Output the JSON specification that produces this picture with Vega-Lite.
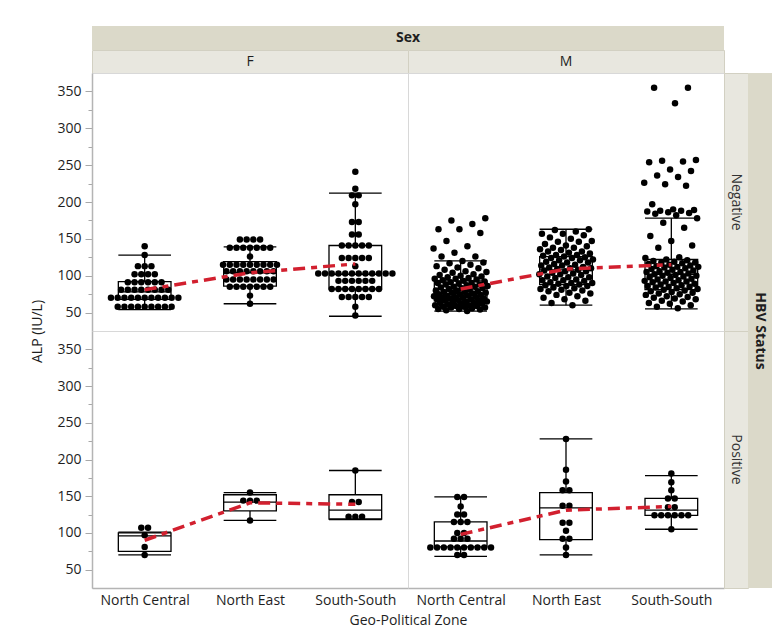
{
  "$schema": "https://vega.github.io/schema/vega-lite/v6.json",
  "padding": {"left": 30, "top": 26, "right": 0, "bottom": 0},
  "background": "white",
  "config": {
    "view": {"stroke": "#d8d8d8", "strokeWidth": 1},
    "font": "Open Sans",
    "text": {"font": "Open Sans", "fontSize": 14, "color": "#1e1e1e"},
    "axis": {"labelFont": "Open Sans", "labelFontSize": 14, "labelColor": "#1e1e1e", "titleFont": "Open Sans", "titleFontSize": 14, "titleFontWeight": "normal", "titleColor": "#1e1e1e", "domainColor": "#b4b4b4", "domainWidth": 1.5, "tickColor": "#a8a8a8", "tickWidth": 1, "grid": false}
  },
  "datasets": {
    "boxes": [
      {"sex": "F", "hbv": "Negative", "zone": "North Central", "lo": 54, "q1": 68, "median": 78, "q3": 92, "hi": 128, "mean": 81},
      {"sex": "F", "hbv": "Negative", "zone": "North East", "lo": 62, "q1": 86, "median": 104, "q3": 119, "hi": 139, "mean": 104},
      {"sex": "F", "hbv": "Negative", "zone": "South-South", "lo": 45, "q1": 82, "median": 102, "q3": 141, "hi": 212, "mean": 116},
      {"sex": "M", "hbv": "Negative", "zone": "North Central", "lo": 52, "q1": 66, "median": 76, "q3": 93, "hi": 120, "mean": 82},
      {"sex": "M", "hbv": "Negative", "zone": "North East", "lo": 60, "q1": 88, "median": 108, "q3": 126, "hi": 163, "mean": 109},
      {"sex": "M", "hbv": "Negative", "zone": "South-South", "lo": 55, "q1": 81, "median": 102, "q3": 122, "hi": 178, "mean": 115},
      {"sex": "F", "hbv": "Positive", "zone": "North Central", "lo": 70, "q1": 75, "median": 96, "q3": 100, "hi": 101, "mean": 90},
      {"sex": "F", "hbv": "Positive", "zone": "North East", "lo": 117, "q1": 130, "median": 142, "q3": 152, "hi": 155, "mean": 141},
      {"sex": "F", "hbv": "Positive", "zone": "South-South", "lo": 118, "q1": 119, "median": 131, "q3": 152, "hi": 185, "mean": 139},
      {"sex": "M", "hbv": "Positive", "zone": "North Central", "lo": 68, "q1": 81, "median": 89, "q3": 115, "hi": 149, "mean": 98},
      {"sex": "M", "hbv": "Positive", "zone": "North East", "lo": 70, "q1": 91, "median": 134, "q3": 155, "hi": 228, "mean": 131},
      {"sex": "M", "hbv": "Positive", "zone": "South-South", "lo": 105, "q1": 124, "median": 131, "q3": 147, "hi": 178, "mean": 136}
    ],
    "fneg": [
      {"zone":"North Central","alp":140},{"zone":"North Central","alp":128},{"zone":"North Central","alp":113},{"zone":"North Central","alp":113},{"zone":"North Central","alp":113},
      {"zone":"North Central","alp":102},{"zone":"North Central","alp":102},{"zone":"North Central","alp":102},{"zone":"North Central","alp":102},
      {"zone":"North Central","alp":91},{"zone":"North Central","alp":91},{"zone":"North Central","alp":91},{"zone":"North Central","alp":91},{"zone":"North Central","alp":91},{"zone":"North Central","alp":91},
      {"zone":"North Central","alp":81},{"zone":"North Central","alp":81},{"zone":"North Central","alp":81},{"zone":"North Central","alp":81},{"zone":"North Central","alp":81},{"zone":"North Central","alp":81},{"zone":"North Central","alp":81},{"zone":"North Central","alp":81},
      {"zone":"North Central","alp":70},{"zone":"North Central","alp":70},{"zone":"North Central","alp":70},{"zone":"North Central","alp":70},{"zone":"North Central","alp":70},{"zone":"North Central","alp":70},{"zone":"North Central","alp":70},{"zone":"North Central","alp":70},{"zone":"North Central","alp":70},{"zone":"North Central","alp":70},{"zone":"North Central","alp":70},
      {"zone":"North Central","alp":58},{"zone":"North Central","alp":58},{"zone":"North Central","alp":58},{"zone":"North Central","alp":58},{"zone":"North Central","alp":58},{"zone":"North Central","alp":58},{"zone":"North Central","alp":58},{"zone":"North Central","alp":58},{"zone":"North Central","alp":58},
      {"zone":"North East","alp":149},{"zone":"North East","alp":149},{"zone":"North East","alp":149},{"zone":"North East","alp":149},
      {"zone":"North East","alp":138},{"zone":"North East","alp":138},{"zone":"North East","alp":138},{"zone":"North East","alp":138},{"zone":"North East","alp":138},{"zone":"North East","alp":138},{"zone":"North East","alp":138},
      {"zone":"North East","alp":126},
      {"zone":"North East","alp":115},{"zone":"North East","alp":115},{"zone":"North East","alp":115},{"zone":"North East","alp":115},{"zone":"North East","alp":115},{"zone":"North East","alp":115},{"zone":"North East","alp":115},{"zone":"North East","alp":115},{"zone":"North East","alp":115},
      {"zone":"North East","alp":106},{"zone":"North East","alp":106},{"zone":"North East","alp":106},{"zone":"North East","alp":106},{"zone":"North East","alp":106},{"zone":"North East","alp":106},{"zone":"North East","alp":106},{"zone":"North East","alp":106},
      {"zone":"North East","alp":95},{"zone":"North East","alp":95},{"zone":"North East","alp":95},{"zone":"North East","alp":95},{"zone":"North East","alp":95},{"zone":"North East","alp":95},{"zone":"North East","alp":95},{"zone":"North East","alp":95},
      {"zone":"North East","alp":85},{"zone":"North East","alp":85},{"zone":"North East","alp":85},{"zone":"North East","alp":85},{"zone":"North East","alp":85},{"zone":"North East","alp":85},{"zone":"North East","alp":85},
      {"zone":"North East","alp":73},{"zone":"North East","alp":62},
      {"zone":"South-South","alp":241},{"zone":"South-South","alp":218},{"zone":"South-South","alp":209},{"zone":"South-South","alp":209},{"zone":"South-South","alp":197},
      {"zone":"South-South","alp":173},{"zone":"South-South","alp":173},{"zone":"South-South","alp":156},{"zone":"South-South","alp":156},
      {"zone":"South-South","alp":141},{"zone":"South-South","alp":141},{"zone":"South-South","alp":141},{"zone":"South-South","alp":141},{"zone":"South-South","alp":141},
      {"zone":"South-South","alp":124},{"zone":"South-South","alp":124},{"zone":"South-South","alp":124},{"zone":"South-South","alp":124},{"zone":"South-South","alp":124},
      {"zone":"South-South","alp":113},
      {"zone":"South-South","alp":103},{"zone":"South-South","alp":103},{"zone":"South-South","alp":103},{"zone":"South-South","alp":103},{"zone":"South-South","alp":103},{"zone":"South-South","alp":103},{"zone":"South-South","alp":103},{"zone":"South-South","alp":103},{"zone":"South-South","alp":103},{"zone":"South-South","alp":103},{"zone":"South-South","alp":103},{"zone":"South-South","alp":103},
      {"zone":"South-South","alp":93},{"zone":"South-South","alp":93},{"zone":"South-South","alp":93},{"zone":"South-South","alp":93},{"zone":"South-South","alp":93},{"zone":"South-South","alp":93},
      {"zone":"South-South","alp":82},{"zone":"South-South","alp":82},{"zone":"South-South","alp":82},{"zone":"South-South","alp":82},{"zone":"South-South","alp":82},{"zone":"South-South","alp":82},{"zone":"South-South","alp":82},{"zone":"South-South","alp":82},
      {"zone":"South-South","alp":71},{"zone":"South-South","alp":71},{"zone":"South-South","alp":71},{"zone":"South-South","alp":71},{"zone":"South-South","alp":71},
      {"zone":"South-South","alp":58},{"zone":"South-South","alp":46}
    ],
    "mneg": [
      {"zone":"North Central","alp":178},{"zone":"North Central","alp":175},{"zone":"North Central","alp":170},{"zone":"North Central","alp":163},{"zone":"North Central","alp":163},{"zone":"North Central","alp":158},{"zone":"North Central","alp":147},{"zone":"North Central","alp":140},{"zone":"North Central","alp":137},{"zone":"North Central","alp":131},{"zone":"North Central","alp":126},{"zone":"North Central","alp":126},
      {"zone":"North Central","alp":120},{"zone":"North Central","alp":118},{"zone":"North Central","alp":117},{"zone":"North Central","alp":115},{"zone":"North Central","alp":113},{"zone":"North Central","alp":111},{"zone":"North Central","alp":110},{"zone":"North Central","alp":108},{"zone":"North Central","alp":106},{"zone":"North Central","alp":105},{"zone":"North Central","alp":104},{"zone":"North Central","alp":102},{"zone":"North Central","alp":101},{"zone":"North Central","alp":100},
      {"zone":"North Central","alp":99},{"zone":"North Central","alp":98},{"zone":"North Central","alp":97},{"zone":"North Central","alp":96},{"zone":"North Central","alp":96},{"zone":"North Central","alp":95},{"zone":"North Central","alp":94},{"zone":"North Central","alp":93},{"zone":"North Central","alp":92},{"zone":"North Central","alp":91},{"zone":"North Central","alp":90},{"zone":"North Central","alp":90},
      {"zone":"North Central","alp":89},{"zone":"North Central","alp":88},{"zone":"North Central","alp":88},{"zone":"North Central","alp":87},{"zone":"North Central","alp":86},{"zone":"North Central","alp":85},{"zone":"North Central","alp":85},{"zone":"North Central","alp":84},{"zone":"North Central","alp":83},{"zone":"North Central","alp":83},{"zone":"North Central","alp":82},{"zone":"North Central","alp":81},{"zone":"North Central","alp":80},{"zone":"North Central","alp":80},
      {"zone":"North Central","alp":79},{"zone":"North Central","alp":78},{"zone":"North Central","alp":78},{"zone":"North Central","alp":77},{"zone":"North Central","alp":77},{"zone":"North Central","alp":76},{"zone":"North Central","alp":75},{"zone":"North Central","alp":75},{"zone":"North Central","alp":74},{"zone":"North Central","alp":73},{"zone":"North Central","alp":73},{"zone":"North Central","alp":72},{"zone":"North Central","alp":71},{"zone":"North Central","alp":71},{"zone":"North Central","alp":70},{"zone":"North Central","alp":70},
      {"zone":"North Central","alp":69},{"zone":"North Central","alp":69},{"zone":"North Central","alp":68},{"zone":"North Central","alp":68},{"zone":"North Central","alp":67},{"zone":"North Central","alp":66},{"zone":"North Central","alp":66},{"zone":"North Central","alp":65},{"zone":"North Central","alp":65},{"zone":"North Central","alp":64},{"zone":"North Central","alp":63},{"zone":"North Central","alp":63},{"zone":"North Central","alp":62},{"zone":"North Central","alp":62},{"zone":"North Central","alp":61},{"zone":"North Central","alp":60},{"zone":"North Central","alp":60},
      {"zone":"North Central","alp":59},{"zone":"North Central","alp":59},{"zone":"North Central","alp":58},{"zone":"North Central","alp":58},{"zone":"North Central","alp":57},{"zone":"North Central","alp":57},{"zone":"North Central","alp":56},{"zone":"North Central","alp":55},{"zone":"North Central","alp":55},{"zone":"North Central","alp":54},{"zone":"North Central","alp":53},{"zone":"North Central","alp":52},
      {"zone":"North East","alp":163},{"zone":"North East","alp":162},{"zone":"North East","alp":160},{"zone":"North East","alp":157},{"zone":"North East","alp":157},{"zone":"North East","alp":155},{"zone":"North East","alp":152},{"zone":"North East","alp":150},{"zone":"North East","alp":147},{"zone":"North East","alp":146},
      {"zone":"North East","alp":146},{"zone":"North East","alp":143},{"zone":"North East","alp":141},{"zone":"North East","alp":140},{"zone":"North East","alp":138},{"zone":"North East","alp":138},{"zone":"North East","alp":136},{"zone":"North East","alp":135},{"zone":"North East","alp":133},{"zone":"North East","alp":133},
      {"zone":"North East","alp":131},{"zone":"North East","alp":130},{"zone":"North East","alp":128},{"zone":"North East","alp":128},{"zone":"North East","alp":127},{"zone":"North East","alp":126},{"zone":"North East","alp":125},{"zone":"North East","alp":124},{"zone":"North East","alp":124},{"zone":"North East","alp":122},
      {"zone":"North East","alp":121},{"zone":"North East","alp":121},{"zone":"North East","alp":119},{"zone":"North East","alp":118},{"zone":"North East","alp":118},{"zone":"North East","alp":116},{"zone":"North East","alp":115},{"zone":"North East","alp":114},{"zone":"North East","alp":114},{"zone":"North East","alp":112},
      {"zone":"North East","alp":111},{"zone":"North East","alp":110},{"zone":"North East","alp":110},{"zone":"North East","alp":109},{"zone":"North East","alp":108},{"zone":"North East","alp":107},{"zone":"North East","alp":106},{"zone":"North East","alp":106},{"zone":"North East","alp":104},{"zone":"North East","alp":103},
      {"zone":"North East","alp":102},{"zone":"North East","alp":102},{"zone":"North East","alp":101},{"zone":"North East","alp":99},{"zone":"North East","alp":98},{"zone":"North East","alp":98},{"zone":"North East","alp":97},{"zone":"North East","alp":95},{"zone":"North East","alp":94},{"zone":"North East","alp":94},
      {"zone":"North East","alp":93},{"zone":"North East","alp":91},{"zone":"North East","alp":90},{"zone":"North East","alp":90},{"zone":"North East","alp":89},{"zone":"North East","alp":88},{"zone":"North East","alp":87},{"zone":"North East","alp":86},{"zone":"North East","alp":86},{"zone":"North East","alp":84},
      {"zone":"North East","alp":83},{"zone":"North East","alp":82},{"zone":"North East","alp":81},{"zone":"North East","alp":80},{"zone":"North East","alp":79},{"zone":"North East","alp":77},{"zone":"North East","alp":76},{"zone":"North East","alp":74},{"zone":"North East","alp":72},{"zone":"North East","alp":70},
      {"zone":"North East","alp":68},{"zone":"North East","alp":66},{"zone":"North East","alp":63},{"zone":"North East","alp":60},
      {"zone":"South-South","alp":355},{"zone":"South-South","alp":355},{"zone":"South-South","alp":334},{"zone":"South-South","alp":257},{"zone":"South-South","alp":256},{"zone":"South-South","alp":255},{"zone":"South-South","alp":254},{"zone":"South-South","alp":244},{"zone":"South-South","alp":242},{"zone":"South-South","alp":236},
      {"zone":"South-South","alp":234},{"zone":"South-South","alp":226},{"zone":"South-South","alp":224},{"zone":"South-South","alp":222},{"zone":"South-South","alp":197},{"zone":"South-South","alp":190},{"zone":"South-South","alp":189},{"zone":"South-South","alp":188},{"zone":"South-South","alp":188},{"zone":"South-South","alp":187},
      {"zone":"South-South","alp":186},{"zone":"South-South","alp":185},{"zone":"South-South","alp":184},{"zone":"South-South","alp":182},
      {"zone":"South-South","alp":178},{"zone":"South-South","alp":172},{"zone":"South-South","alp":165},{"zone":"South-South","alp":154},{"zone":"South-South","alp":147},{"zone":"South-South","alp":141},{"zone":"South-South","alp":138},
      {"zone":"South-South","alp":125},{"zone":"South-South","alp":124},{"zone":"South-South","alp":122},{"zone":"South-South","alp":121},{"zone":"South-South","alp":120},{"zone":"South-South","alp":119},{"zone":"South-South","alp":118},{"zone":"South-South","alp":118},{"zone":"South-South","alp":117},{"zone":"South-South","alp":116},
      {"zone":"South-South","alp":115},{"zone":"South-South","alp":114},{"zone":"South-South","alp":113},{"zone":"South-South","alp":112},{"zone":"South-South","alp":112},{"zone":"South-South","alp":111},{"zone":"South-South","alp":110},{"zone":"South-South","alp":109},{"zone":"South-South","alp":108},{"zone":"South-South","alp":107},
      {"zone":"South-South","alp":106},{"zone":"South-South","alp":105},{"zone":"South-South","alp":105},{"zone":"South-South","alp":104},{"zone":"South-South","alp":103},{"zone":"South-South","alp":102},{"zone":"South-South","alp":101},{"zone":"South-South","alp":100},{"zone":"South-South","alp":100},{"zone":"South-South","alp":99},
      {"zone":"South-South","alp":98},{"zone":"South-South","alp":97},{"zone":"South-South","alp":96},{"zone":"South-South","alp":95},{"zone":"South-South","alp":94},{"zone":"South-South","alp":93},{"zone":"South-South","alp":92},{"zone":"South-South","alp":92},{"zone":"South-South","alp":91},{"zone":"South-South","alp":90},
      {"zone":"South-South","alp":89},{"zone":"South-South","alp":88},{"zone":"South-South","alp":87},{"zone":"South-South","alp":86},{"zone":"South-South","alp":85},{"zone":"South-South","alp":85},{"zone":"South-South","alp":84},{"zone":"South-South","alp":83},{"zone":"South-South","alp":82},{"zone":"South-South","alp":81},
      {"zone":"South-South","alp":80},{"zone":"South-South","alp":79},{"zone":"South-South","alp":78},{"zone":"South-South","alp":77},{"zone":"South-South","alp":76},{"zone":"South-South","alp":75},{"zone":"South-South","alp":74},{"zone":"South-South","alp":72},{"zone":"South-South","alp":71},{"zone":"South-South","alp":70},
      {"zone":"South-South","alp":69},{"zone":"South-South","alp":68},{"zone":"South-South","alp":66},{"zone":"South-South","alp":65},{"zone":"South-South","alp":63},{"zone":"South-South","alp":62},{"zone":"South-South","alp":60},{"zone":"South-South","alp":58},{"zone":"South-South","alp":56}
    ],
    "fpos": [
      {"zone":"North Central","alp":107},{"zone":"North Central","alp":107},{"zone":"North Central","alp":97},{"zone":"North Central","alp":81},{"zone":"North Central","alp":70},
      {"zone":"North East","alp":155},{"zone":"North East","alp":144},{"zone":"North East","alp":144},{"zone":"North East","alp":144},{"zone":"North East","alp":117},
      {"zone":"South-South","alp":185},{"zone":"South-South","alp":142},{"zone":"South-South","alp":142},{"zone":"South-South","alp":122},{"zone":"South-South","alp":122},{"zone":"South-South","alp":122}
    ],
    "mpos": [
      {"zone":"North Central","alp":149},{"zone":"North Central","alp":149},{"zone":"North Central","alp":136},{"zone":"North Central","alp":125},{"zone":"North Central","alp":125},
      {"zone":"North Central","alp":115},{"zone":"North Central","alp":115},{"zone":"North Central","alp":115},{"zone":"North Central","alp":100},{"zone":"North Central","alp":100},
      {"zone":"North Central","alp":92},{"zone":"North Central","alp":92},{"zone":"North Central","alp":92},
      {"zone":"North Central","alp":80},{"zone":"North Central","alp":80},{"zone":"North Central","alp":80},{"zone":"North Central","alp":80},{"zone":"North Central","alp":80},{"zone":"North Central","alp":80},{"zone":"North Central","alp":80},{"zone":"North Central","alp":80},{"zone":"North Central","alp":80},{"zone":"North Central","alp":80},
      {"zone":"North Central","alp":70},{"zone":"North Central","alp":70},
      {"zone":"North East","alp":228},{"zone":"North East","alp":186},{"zone":"North East","alp":170},{"zone":"North East","alp":158},{"zone":"North East","alp":158},{"zone":"North East","alp":137},{"zone":"North East","alp":137},
      {"zone":"North East","alp":114},{"zone":"North East","alp":114},{"zone":"North East","alp":103},{"zone":"North East","alp":92},{"zone":"North East","alp":92},{"zone":"North East","alp":80},{"zone":"North East","alp":70},
      {"zone":"South-South","alp":181},{"zone":"South-South","alp":169},{"zone":"South-South","alp":158},{"zone":"South-South","alp":147},{"zone":"South-South","alp":147},{"zone":"South-South","alp":135},{"zone":"South-South","alp":135},
      {"zone":"South-South","alp":124},{"zone":"South-South","alp":124},{"zone":"South-South","alp":124},{"zone":"South-South","alp":124},{"zone":"South-South","alp":124},{"zone":"South-South","alp":124},{"zone":"South-South","alp":105}
    ]
  },
  "columns": 4,
  "spacing": 0,
  "bounds": "flush",
  "align": "each",
  "concat": [
    {"width": 316, "height": 24, "view": {"fill": "#dbd9c9", "stroke": null}, "data": {"values": [{}]}, "mark": {"type": "text", "text": ""}, "encoding": {}},
    {"width": 316, "height": 24, "view": {"fill": "#dbd9c9", "stroke": null}, "data": {"values": [{}]},
     "mark": {"type": "text", "text": "Sex", "fontWeight": "bold", "align": "center", "baseline": "middle"},
     "encoding": {"x": {"datum": 0, "type": "quantitative", "scale": {"domain": [0, 1]}, "axis": null}}},
    {"width": 24, "height": 24, "view": {"stroke": null}, "data": {"values": [{}]}, "mark": {"type": "text", "text": ""}, "encoding": {}},
    {"width": 24, "height": 24, "view": {"stroke": null}, "data": {"values": [{}]}, "mark": {"type": "text", "text": ""}, "encoding": {}},

    {"width": 316, "height": 23, "view": {"fill": "#e8e7df", "stroke": "#d2d0c2"}, "data": {"values": [{}]}, "mark": {"type": "text", "text": "F", "align": "center", "baseline": "middle"}, "encoding": {}},
    {"width": 316, "height": 23, "view": {"fill": "#e8e7df", "stroke": "#d2d0c2"}, "data": {"values": [{}]}, "mark": {"type": "text", "text": "M", "align": "center", "baseline": "middle"}, "encoding": {}},
    {"width": 24, "height": 23, "view": {"stroke": null}, "data": {"values": [{}]}, "mark": {"type": "text", "text": ""}, "encoding": {}},
    {"width": 24, "height": 23, "view": {"stroke": null}, "data": {"values": [{}]}, "mark": {"type": "text", "text": ""}, "encoding": {}},

    {"width": 316, "height": 258,
     "layer": [
       {"data": {"name": "boxes"},
        "transform": [
          {"filter": "datum.sex === 'F' && datum.hbv === 'Negative'"},
          {"calculate": "indexof(['North Central','North East','South-South'], datum.zone) + 1", "as": "idx"},
          {"calculate": "datum.idx - 0.25", "as": "xl"},
          {"calculate": "datum.idx + 0.25", "as": "xr"}
        ],
        "layer": [
          {"mark": {"type": "rule", "color": "black", "strokeWidth": 1.3},
           "encoding": {
             "x": {"field": "idx", "type": "quantitative", "scale": {"domain": [0.5, 3.5], "nice": false, "zero": false}, "axis": null},
             "y": {"field": "lo", "type": "quantitative", "scale": {"domain": [25, 375], "nice": false, "zero": false},
                   "axis": {"values": [50,75,100,125,150,175,200,225,250,275,300,325,350], "labelExpr": "datum.value % 50 === 0 ? datum.label : ''", "tickSize": {"condition": {"test": "datum.value % 50 === 0", "value": 7}, "value": 4}, "labelOverlap": false, "labelPadding": 4, "title": null}},
             "y2": {"field": "hi"}}},
          {"mark": {"type": "rect", "fill": "white", "stroke": "black", "strokeWidth": 1.3},
           "encoding": {
             "x": {"field": "xl", "type": "quantitative", "scale": {"domain": [0.5, 3.5], "nice": false, "zero": false}, "axis": null},
             "x2": {"field": "xr"},
             "y": {"field": "q1", "type": "quantitative", "scale": {"domain": [25, 375], "nice": false, "zero": false},
                   "axis": {"values": [50,75,100,125,150,175,200,225,250,275,300,325,350], "labelExpr": "datum.value % 50 === 0 ? datum.label : ''", "tickSize": {"condition": {"test": "datum.value % 50 === 0", "value": 7}, "value": 4}, "labelOverlap": false, "labelPadding": 4, "title": null}},
             "y2": {"field": "q3"}}},
          {"transform": [{"fold": ["lo", "hi", "median"], "as": ["stat", "val"]}],
           "mark": {"type": "rule", "color": "black", "strokeWidth": 1.3},
           "encoding": {
             "x": {"field": "xl", "type": "quantitative", "scale": {"domain": [0.5, 3.5], "nice": false, "zero": false}, "axis": null},
             "x2": {"field": "xr"},
             "y": {"field": "val", "type": "quantitative", "scale": {"domain": [25, 375], "nice": false, "zero": false},
                   "axis": {"values": [50,75,100,125,150,175,200,225,250,275,300,325,350], "labelExpr": "datum.value % 50 === 0 ? datum.label : ''", "tickSize": {"condition": {"test": "datum.value % 50 === 0", "value": 7}, "value": 4}, "labelOverlap": false, "labelPadding": 4, "title": null}}}}
        ]},
       {"data": {"name": "fneg"},
        "transform": [
          {"calculate": "indexof(['North Central','North East','South-South'], datum.zone) + 1", "as": "idx"},
          {"joinaggregate": [{"op": "count", "as": "n"}], "groupby": ["zone", "alp"]},
          {"window": [{"op": "row_number", "as": "rn"}], "groupby": ["zone", "alp"]},
          {"calculate": "datum.idx + (datum.rn - 1 - (datum.n - 1) / 2) * 0.064", "as": "xp"}
        ],
        "mark": {"type": "circle", "size": 42, "color": "black", "opacity": 1},
        "encoding": {
          "x": {"field": "xp", "type": "quantitative", "scale": {"domain": [0.5, 3.5], "nice": false, "zero": false}, "axis": null},
          "y": {"field": "alp", "type": "quantitative", "scale": {"domain": [25, 375], "nice": false, "zero": false},
                "axis": {"values": [50,75,100,125,150,175,200,225,250,275,300,325,350], "labelExpr": "datum.value % 50 === 0 ? datum.label : ''", "tickSize": {"condition": {"test": "datum.value % 50 === 0", "value": 7}, "value": 4}, "labelOverlap": false, "labelPadding": 4, "title": null}}}},
       {"data": {"name": "boxes"},
        "transform": [
          {"filter": "datum.sex === 'F' && datum.hbv === 'Negative'"},
          {"calculate": "indexof(['North Central','North East','South-South'], datum.zone) + 1", "as": "idx"}
        ],
        "mark": {"type": "line", "color": "#d2202f", "strokeWidth": 3.5, "strokeDash": [12, 6, 6, 6]},
        "encoding": {
          "x": {"field": "idx", "type": "quantitative", "scale": {"domain": [0.5, 3.5], "nice": false, "zero": false}, "axis": null},
          "y": {"field": "mean", "type": "quantitative", "scale": {"domain": [25, 375], "nice": false, "zero": false},
                "axis": {"values": [50,75,100,125,150,175,200,225,250,275,300,325,350], "labelExpr": "datum.value % 50 === 0 ? datum.label : ''", "tickSize": {"condition": {"test": "datum.value % 50 === 0", "value": 7}, "value": 4}, "labelOverlap": false, "labelPadding": 4, "title": null}}}}
     ]},

    {"width": 316, "height": 258,
     "layer": [
       {"data": {"name": "boxes"},
        "transform": [
          {"filter": "datum.sex === 'M' && datum.hbv === 'Negative'"},
          {"calculate": "indexof(['North Central','North East','South-South'], datum.zone) + 1", "as": "idx"},
          {"calculate": "datum.idx - 0.25", "as": "xl"},
          {"calculate": "datum.idx + 0.25", "as": "xr"}
        ],
        "layer": [
          {"mark": {"type": "rule", "color": "black", "strokeWidth": 1.3},
           "encoding": {
             "x": {"field": "idx", "type": "quantitative", "scale": {"domain": [0.5, 3.5], "nice": false, "zero": false}, "axis": null},
             "y": {"field": "lo", "type": "quantitative", "scale": {"domain": [25, 375], "nice": false, "zero": false}, "axis": null},
             "y2": {"field": "hi"}}},
          {"mark": {"type": "rect", "fill": "white", "stroke": "black", "strokeWidth": 1.3},
           "encoding": {
             "x": {"field": "xl", "type": "quantitative", "scale": {"domain": [0.5, 3.5], "nice": false, "zero": false}, "axis": null},
             "x2": {"field": "xr"},
             "y": {"field": "q1", "type": "quantitative", "scale": {"domain": [25, 375], "nice": false, "zero": false}, "axis": null},
             "y2": {"field": "q3"}}},
          {"transform": [{"fold": ["lo", "hi", "median"], "as": ["stat", "val"]}],
           "mark": {"type": "rule", "color": "black", "strokeWidth": 1.3},
           "encoding": {
             "x": {"field": "xl", "type": "quantitative", "scale": {"domain": [0.5, 3.5], "nice": false, "zero": false}, "axis": null},
             "x2": {"field": "xr"},
             "y": {"field": "val", "type": "quantitative", "scale": {"domain": [25, 375], "nice": false, "zero": false}, "axis": null}}}
        ]},
       {"data": {"name": "mneg"},
        "transform": [
          {"calculate": "indexof(['North Central','North East','South-South'], datum.zone) + 1", "as": "idx"},
          {"window": [{"op": "row_number", "as": "rn"}], "groupby": ["zone"], "sort": [{"field": "alp", "order": "ascending"}]},
          {"calculate": "datum.idx + ((datum.rn * 0.618034) % 1 - 0.5) * 0.52", "as": "xp"}
        ],
        "mark": {"type": "circle", "size": 42, "color": "black", "opacity": 1},
        "encoding": {
          "x": {"field": "xp", "type": "quantitative", "scale": {"domain": [0.5, 3.5], "nice": false, "zero": false}, "axis": null},
          "y": {"field": "alp", "type": "quantitative", "scale": {"domain": [25, 375], "nice": false, "zero": false}, "axis": null}}},
       {"data": {"name": "boxes"},
        "transform": [
          {"filter": "datum.sex === 'M' && datum.hbv === 'Negative'"},
          {"calculate": "indexof(['North Central','North East','South-South'], datum.zone) + 1", "as": "idx"}
        ],
        "mark": {"type": "line", "color": "#d2202f", "strokeWidth": 3.5, "strokeDash": [12, 6, 6, 6]},
        "encoding": {
          "x": {"field": "idx", "type": "quantitative", "scale": {"domain": [0.5, 3.5], "nice": false, "zero": false}, "axis": null},
          "y": {"field": "mean", "type": "quantitative", "scale": {"domain": [25, 375], "nice": false, "zero": false}, "axis": null}}}
     ]},

    {"width": 24, "height": 258, "view": {"fill": "#e8e7df", "stroke": "#d2d0c2"}, "data": {"values": [{}]}, "mark": {"type": "text", "text": "Negative", "angle": 90, "align": "center", "baseline": "middle", "color": "#333333"}, "encoding": {}},
    {"width": 24, "height": 258, "view": {"fill": "#dbd9c9", "stroke": null}, "data": {"values": [{}]}, "mark": {"type": "text", "text": ""}, "encoding": {}},

    {"width": 316, "height": 257,
     "layer": [
       {"data": {"name": "boxes"},
        "transform": [
          {"filter": "datum.sex === 'F' && datum.hbv === 'Positive'"},
          {"calculate": "indexof(['North Central','North East','South-South'], datum.zone) + 1", "as": "idx"},
          {"calculate": "datum.idx - 0.25", "as": "xl"},
          {"calculate": "datum.idx + 0.25", "as": "xr"}
        ],
        "layer": [
          {"mark": {"type": "rule", "color": "black", "strokeWidth": 1.3},
           "encoding": {
             "x": {"field": "idx", "type": "quantitative", "scale": {"domain": [0.5, 3.5], "nice": false, "zero": false},
                   "axis": {"values": [1, 2, 3], "labelExpr": "datum.value === 1 ? 'North Central' : datum.value === 2 ? 'North East' : 'South-South'", "ticks": false, "labelPadding": 5, "labelOverlap": false, "labelFlush": false, "title": "Geo-Political Zone", "titleAnchor": "end", "titleAlign": "center", "titlePadding": 6}},
             "y": {"field": "lo", "type": "quantitative", "scale": {"domain": [25, 375], "nice": false, "zero": false},
                   "axis": {"values": [50,75,100,125,150,175,200,225,250,275,300,325,350], "labelExpr": "datum.value % 50 === 0 ? datum.label : ''", "tickSize": {"condition": {"test": "datum.value % 50 === 0", "value": 7}, "value": 4}, "labelOverlap": false, "labelPadding": 4, "title": "ALP (IU/L)", "titleAnchor": "end", "titleAlign": "center", "titlePadding": 12}},
             "y2": {"field": "hi"}}},
          {"mark": {"type": "rect", "fill": "white", "stroke": "black", "strokeWidth": 1.3},
           "encoding": {
             "x": {"field": "xl", "type": "quantitative", "scale": {"domain": [0.5, 3.5], "nice": false, "zero": false},
                   "axis": {"values": [1, 2, 3], "labelExpr": "datum.value === 1 ? 'North Central' : datum.value === 2 ? 'North East' : 'South-South'", "ticks": false, "labelPadding": 5, "labelOverlap": false, "labelFlush": false, "title": "Geo-Political Zone", "titleAnchor": "end", "titleAlign": "center", "titlePadding": 6}},
             "x2": {"field": "xr"},
             "y": {"field": "q1", "type": "quantitative", "scale": {"domain": [25, 375], "nice": false, "zero": false},
                   "axis": {"values": [50,75,100,125,150,175,200,225,250,275,300,325,350], "labelExpr": "datum.value % 50 === 0 ? datum.label : ''", "tickSize": {"condition": {"test": "datum.value % 50 === 0", "value": 7}, "value": 4}, "labelOverlap": false, "labelPadding": 4, "title": "ALP (IU/L)", "titleAnchor": "end", "titleAlign": "center", "titlePadding": 12}},
             "y2": {"field": "q3"}}},
          {"transform": [{"fold": ["lo", "hi", "median"], "as": ["stat", "val"]}],
           "mark": {"type": "rule", "color": "black", "strokeWidth": 1.3},
           "encoding": {
             "x": {"field": "xl", "type": "quantitative", "scale": {"domain": [0.5, 3.5], "nice": false, "zero": false},
                   "axis": {"values": [1, 2, 3], "labelExpr": "datum.value === 1 ? 'North Central' : datum.value === 2 ? 'North East' : 'South-South'", "ticks": false, "labelPadding": 5, "labelOverlap": false, "labelFlush": false, "title": "Geo-Political Zone", "titleAnchor": "end", "titleAlign": "center", "titlePadding": 6}},
             "x2": {"field": "xr"},
             "y": {"field": "val", "type": "quantitative", "scale": {"domain": [25, 375], "nice": false, "zero": false},
                   "axis": {"values": [50,75,100,125,150,175,200,225,250,275,300,325,350], "labelExpr": "datum.value % 50 === 0 ? datum.label : ''", "tickSize": {"condition": {"test": "datum.value % 50 === 0", "value": 7}, "value": 4}, "labelOverlap": false, "labelPadding": 4, "title": "ALP (IU/L)", "titleAnchor": "end", "titleAlign": "center", "titlePadding": 12}}}}
        ]},
       {"data": {"name": "fpos"},
        "transform": [
          {"calculate": "indexof(['North Central','North East','South-South'], datum.zone) + 1", "as": "idx"},
          {"joinaggregate": [{"op": "count", "as": "n"}], "groupby": ["zone", "alp"]},
          {"window": [{"op": "row_number", "as": "rn"}], "groupby": ["zone", "alp"]},
          {"calculate": "datum.idx + (datum.rn - 1 - (datum.n - 1) / 2) * 0.064", "as": "xp"}
        ],
        "mark": {"type": "circle", "size": 42, "color": "black", "opacity": 1},
        "encoding": {
          "x": {"field": "xp", "type": "quantitative", "scale": {"domain": [0.5, 3.5], "nice": false, "zero": false},
                "axis": {"values": [1, 2, 3], "labelExpr": "datum.value === 1 ? 'North Central' : datum.value === 2 ? 'North East' : 'South-South'", "ticks": false, "labelPadding": 5, "labelOverlap": false, "labelFlush": false, "title": "Geo-Political Zone", "titleAnchor": "end", "titleAlign": "center", "titlePadding": 6}},
          "y": {"field": "alp", "type": "quantitative", "scale": {"domain": [25, 375], "nice": false, "zero": false},
                "axis": {"values": [50,75,100,125,150,175,200,225,250,275,300,325,350], "labelExpr": "datum.value % 50 === 0 ? datum.label : ''", "tickSize": {"condition": {"test": "datum.value % 50 === 0", "value": 7}, "value": 4}, "labelOverlap": false, "labelPadding": 4, "title": "ALP (IU/L)", "titleAnchor": "end", "titleAlign": "center", "titlePadding": 12}}}},
       {"data": {"name": "boxes"},
        "transform": [
          {"filter": "datum.sex === 'F' && datum.hbv === 'Positive'"},
          {"calculate": "indexof(['North Central','North East','South-South'], datum.zone) + 1", "as": "idx"}
        ],
        "mark": {"type": "line", "color": "#d2202f", "strokeWidth": 3.5, "strokeDash": [12, 6, 6, 6]},
        "encoding": {
          "x": {"field": "idx", "type": "quantitative", "scale": {"domain": [0.5, 3.5], "nice": false, "zero": false},
                "axis": {"values": [1, 2, 3], "labelExpr": "datum.value === 1 ? 'North Central' : datum.value === 2 ? 'North East' : 'South-South'", "ticks": false, "labelPadding": 5, "labelOverlap": false, "labelFlush": false, "title": "Geo-Political Zone", "titleAnchor": "end", "titleAlign": "center", "titlePadding": 6}},
          "y": {"field": "mean", "type": "quantitative", "scale": {"domain": [25, 375], "nice": false, "zero": false},
                "axis": {"values": [50,75,100,125,150,175,200,225,250,275,300,325,350], "labelExpr": "datum.value % 50 === 0 ? datum.label : ''", "tickSize": {"condition": {"test": "datum.value % 50 === 0", "value": 7}, "value": 4}, "labelOverlap": false, "labelPadding": 4, "title": "ALP (IU/L)", "titleAnchor": "end", "titleAlign": "center", "titlePadding": 12}}}}
     ]},

    {"width": 316, "height": 257,
     "layer": [
       {"data": {"name": "boxes"},
        "transform": [
          {"filter": "datum.sex === 'M' && datum.hbv === 'Positive'"},
          {"calculate": "indexof(['North Central','North East','South-South'], datum.zone) + 1", "as": "idx"},
          {"calculate": "datum.idx - 0.25", "as": "xl"},
          {"calculate": "datum.idx + 0.25", "as": "xr"}
        ],
        "layer": [
          {"mark": {"type": "rule", "color": "black", "strokeWidth": 1.3},
           "encoding": {
             "x": {"field": "idx", "type": "quantitative", "scale": {"domain": [0.5, 3.5], "nice": false, "zero": false},
                   "axis": {"values": [1, 2, 3], "labelExpr": "datum.value === 1 ? 'North Central' : datum.value === 2 ? 'North East' : 'South-South'", "ticks": false, "labelPadding": 5, "labelOverlap": false, "labelFlush": false, "title": null}},
             "y": {"field": "lo", "type": "quantitative", "scale": {"domain": [25, 375], "nice": false, "zero": false}, "axis": null},
             "y2": {"field": "hi"}}},
          {"mark": {"type": "rect", "fill": "white", "stroke": "black", "strokeWidth": 1.3},
           "encoding": {
             "x": {"field": "xl", "type": "quantitative", "scale": {"domain": [0.5, 3.5], "nice": false, "zero": false},
                   "axis": {"values": [1, 2, 3], "labelExpr": "datum.value === 1 ? 'North Central' : datum.value === 2 ? 'North East' : 'South-South'", "ticks": false, "labelPadding": 5, "labelOverlap": false, "labelFlush": false, "title": null}},
             "x2": {"field": "xr"},
             "y": {"field": "q1", "type": "quantitative", "scale": {"domain": [25, 375], "nice": false, "zero": false}, "axis": null},
             "y2": {"field": "q3"}}},
          {"transform": [{"fold": ["lo", "hi", "median"], "as": ["stat", "val"]}],
           "mark": {"type": "rule", "color": "black", "strokeWidth": 1.3},
           "encoding": {
             "x": {"field": "xl", "type": "quantitative", "scale": {"domain": [0.5, 3.5], "nice": false, "zero": false},
                   "axis": {"values": [1, 2, 3], "labelExpr": "datum.value === 1 ? 'North Central' : datum.value === 2 ? 'North East' : 'South-South'", "ticks": false, "labelPadding": 5, "labelOverlap": false, "labelFlush": false, "title": null}},
             "x2": {"field": "xr"},
             "y": {"field": "val", "type": "quantitative", "scale": {"domain": [25, 375], "nice": false, "zero": false}, "axis": null}}}
        ]},
       {"data": {"name": "mpos"},
        "transform": [
          {"calculate": "indexof(['North Central','North East','South-South'], datum.zone) + 1", "as": "idx"},
          {"joinaggregate": [{"op": "count", "as": "n"}], "groupby": ["zone", "alp"]},
          {"window": [{"op": "row_number", "as": "rn"}], "groupby": ["zone", "alp"]},
          {"calculate": "datum.idx + (datum.rn - 1 - (datum.n - 1) / 2) * 0.064", "as": "xp"}
        ],
        "mark": {"type": "circle", "size": 42, "color": "black", "opacity": 1},
        "encoding": {
          "x": {"field": "xp", "type": "quantitative", "scale": {"domain": [0.5, 3.5], "nice": false, "zero": false},
                "axis": {"values": [1, 2, 3], "labelExpr": "datum.value === 1 ? 'North Central' : datum.value === 2 ? 'North East' : 'South-South'", "ticks": false, "labelPadding": 5, "labelOverlap": false, "labelFlush": false, "title": null}},
          "y": {"field": "alp", "type": "quantitative", "scale": {"domain": [25, 375], "nice": false, "zero": false}, "axis": null}}},
       {"data": {"name": "boxes"},
        "transform": [
          {"filter": "datum.sex === 'M' && datum.hbv === 'Positive'"},
          {"calculate": "indexof(['North Central','North East','South-South'], datum.zone) + 1", "as": "idx"}
        ],
        "mark": {"type": "line", "color": "#d2202f", "strokeWidth": 3.5, "strokeDash": [12, 6, 6, 6]},
        "encoding": {
          "x": {"field": "idx", "type": "quantitative", "scale": {"domain": [0.5, 3.5], "nice": false, "zero": false},
                "axis": {"values": [1, 2, 3], "labelExpr": "datum.value === 1 ? 'North Central' : datum.value === 2 ? 'North East' : 'South-South'", "ticks": false, "labelPadding": 5, "labelOverlap": false, "labelFlush": false, "title": null}},
          "y": {"field": "mean", "type": "quantitative", "scale": {"domain": [25, 375], "nice": false, "zero": false}, "axis": null}}}
     ]},

    {"width": 24, "height": 257, "view": {"fill": "#e8e7df", "stroke": "#d2d0c2"}, "data": {"values": [{}]}, "mark": {"type": "text", "text": "Positive", "angle": 90, "align": "center", "baseline": "middle", "color": "#333333"}, "encoding": {}},
    {"width": 24, "height": 257, "view": {"fill": "#dbd9c9", "stroke": null}, "data": {"values": [{}]},
     "mark": {"type": "text", "text": "HBV Status", "fontWeight": "bold", "angle": 90, "align": "center", "baseline": "middle"},
     "encoding": {"y": {"datum": 1, "type": "quantitative", "scale": {"domain": [0, 1]}, "axis": null}}}
  ]
}
